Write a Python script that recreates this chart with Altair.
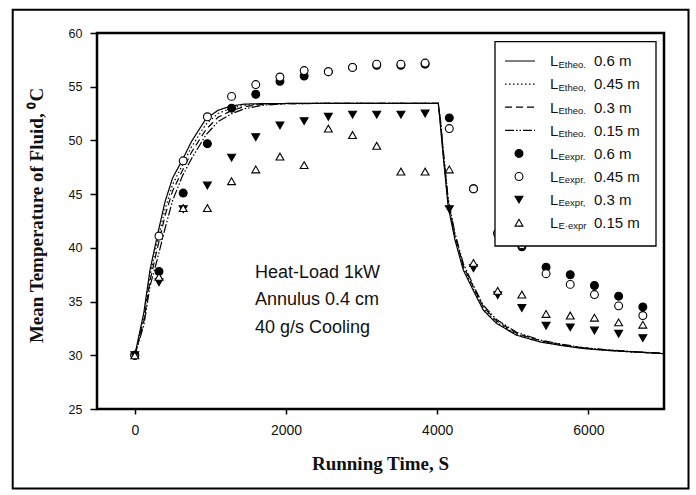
import altair as alt
import pandas as pd

# ---------------- data ----------------
theo_time = [0, 120, 200, 300, 400, 500, 630, 750, 940, 1100, 1270, 1450, 1700, 2000, 2400,
             4015, 4045, 4080, 4145, 4235, 4345, 4475, 4610, 4785, 5050, 5360, 5650, 5930, 6250, 6590, 7000]
theo_06 = [30, 34.0, 37.9, 41.2, 44.3, 46.5, 48.2, 49.9, 52.0, 52.8, 53.2, 53.38, 53.43, 53.44, 53.44,
           53.44, 51.2, 48.5, 43.85, 40.74, 37.94, 36.07, 34.2, 32.96, 31.87, 31.24, 30.9, 30.63, 30.45, 30.31, 30.15]
theo_045 = [30, 33.6, 37.4, 40.6, 43.6, 45.9, 47.7, 49.4, 51.5, 52.5, 53.0, 53.28, 53.4, 53.44, 53.44,
            53.44, 51.4, 48.7, 44.1, 40.95, 38.15, 36.25, 34.35, 33.08, 31.96, 31.3, 30.94, 30.66, 30.47, 30.32, 30.16]
theo_03 = [30, 33.2, 36.9, 40.0, 43.0, 45.3, 47.2, 48.9, 51.0, 52.15, 52.75, 53.15, 53.35, 53.43, 53.44,
           53.44, 51.6, 48.9, 44.35, 41.15, 38.35, 36.4, 34.5, 33.2, 32.05, 31.36, 30.98, 30.69, 30.49, 30.33, 30.17]
theo_015 = [30, 32.8, 36.4, 39.0, 41.8, 44.4, 46.7, 48.3, 50.5, 51.75, 52.45, 52.95, 53.28, 53.42, 53.44,
            53.44, 51.8, 49.1, 44.6, 41.35, 38.55, 36.55, 34.65, 33.32, 32.14, 31.42, 31.02, 30.72, 30.51, 30.34, 30.18]

exp_time = [0, 320, 640, 960, 1280, 1600, 1920, 2240, 2560, 2880, 3200, 3520, 3840,
            4160, 4480, 4800, 5120, 5440, 5760, 6080, 6400, 6720]
exp_06 = [30, 37.8, 45.1, 49.7, 53.0, 54.3, 55.5, 56.0, 56.4, 56.8, 57.0, 57.0, 57.1,
          52.1, 45.5, 41.4, 40.1, 38.2, 37.5, 36.5, 35.5, 34.5]
exp_045 = [30, 41.1, 48.1, 52.2, 54.1, 55.2, 55.9, 56.5, 56.4, 56.8, 57.1, 57.1, 57.2,
           51.1, 45.5, 41.3, 40.3, 37.6, 36.6, 35.65, 34.6, 33.7]
exp_03 = [30, 36.8, 43.6, 45.8, 48.4, 50.3, 51.4, 51.8, 52.2, 52.4, 52.4, 52.4, 52.5,
          43.6, 38.1, 35.6, 34.4, 32.75, 32.6, 32.3, 32.0, 31.6]
exp_015 = [30, 37.3, 43.7, 43.7, 46.2, 47.3, 48.5, 47.7, 51.1, 50.5, 49.5, 47.1, 47.1,
           47.3, 38.6, 36.0, 35.65, 33.85, 33.7, 33.5, 33.06, 32.85]

series_names = ["0.6", "0.45", "0.3", "0.15"]
legend_sub = ["Etheo.", "Etheo,", "Etheo.", "Etheo.", "Eexpr.", "Eexpr.", "Eexpr,", "E·expr"]
legend_num = ["0.6 m", "0.45 m", "0.3 m", "0.15 m", "0.6 m", "0.45 m", "0.3 m", "0.15 m"]
annotation = ["Heat-Load 1kW", "Annulus 0.4 cm", "40 g/s Cooling"]

x_ticks = [0, 2000, 4000, 6000]
y_ticks = [25, 30, 35, 40, 45, 50, 55, 60]

# ---------------- styling ----------------
SANS = "Liberation Sans"
SERIF = "Liberation Serif"
TXT = "#111111"
dash_scale = alt.Scale(domain=series_names,
                       range=[[1, 0], [1.5, 2.5], [7, 4], [9, 2, 1.5, 2, 1.5, 2]])

X = alt.X("t:Q", scale=alt.Scale(domain=[-500, 7000], nice=False, zero=False),
          axis=alt.Axis(values=x_ticks, format="d", title="Running Time, S",
                        titleFont=SERIF, titleFontSize=19, titleFontWeight="bold",
                        titleColor=TXT, titleX=283, titleY=54, titleBaseline="middle",
                        titleAlign="center",
                        labelFont=SANS, labelFontSize=14, labelColor=TXT,
                        tickSize=5, labelPadding=9, tickWidth=1.5, tickColor="black",
                        grid=False, domain=False))
Y = alt.Y("v:Q", scale=alt.Scale(domain=[25, 60], nice=False, zero=False),
          axis=alt.Axis(values=y_ticks, title="Mean Temperature of Fluid, ⁰C",
                        titleFont=SERIF, titleFontSize=19, titleFontWeight="bold",
                        titleColor=TXT, titleX=-61, titleY=182, titleBaseline="middle",
                        titleAlign="center", titleAngle=270,
                        labelFont=SANS, labelFontSize=12.5, labelColor=TXT,
                        tickSize=7, labelPadding=8, tickWidth=1.5, tickColor="black",
                        grid=False, domain=False))

# theoretical curves
theo_df = pd.concat([
    pd.DataFrame({"t": theo_time, "v": vals, "s": name, "o": range(len(theo_time))})
    for name, vals in zip(series_names, [theo_06, theo_045, theo_03, theo_015])
])
lines = alt.Chart(theo_df).mark_line(color="black", strokeWidth=1.2).encode(
    x=X, y=Y, order="o:Q",
    strokeDash=alt.StrokeDash("s:N", scale=dash_scale, legend=None))


def marker_layer(vals, shape, fill):
    df = pd.DataFrame({"t": exp_time, "v": vals})
    return alt.Chart(df).mark_point(shape=shape, filled=True, fill=fill, stroke="black",
                                    strokeWidth=1.1, size=62, opacity=1).encode(x=X, y=Y)


m06 = marker_layer(exp_06, "circle", "black")
m045 = marker_layer(exp_045, "circle", "white")
m03 = marker_layer(exp_03, "triangle-down", "black")
m015 = marker_layer(exp_015, "triangle-up", "white")

# annotation
ann_df = pd.DataFrame({"txt": annotation, "k": range(3)})
ann_df["py"] = 239.5 + ann_df["k"] * 27.8
ann = alt.Chart(ann_df).mark_text(align="left", baseline="middle", font=SANS, fontSize=18,
                                  color=TXT).encode(
    x=alt.value(158), y=alt.Y("py:Q", scale=None, axis=None), text="txt:N")

# legend (drawn in pixel space)
one = pd.DataFrame({"a": [0]})
leg_box = alt.Chart(one).mark_rect(fill="white", stroke="black", strokeWidth=1.3).encode(
    x=alt.value(398), x2=alt.value(559), y=alt.value(8.7), y2=alt.value(213))

row_y = [28 + 23.1 * i for i in range(8)]
leg_line_df = pd.DataFrame({
    "lx": [408, 438] * 4,
    "ly": [row_y[i // 2] for i in range(8)],
    "s": [series_names[i // 2] for i in range(8)],
})
leg_lines = alt.Chart(leg_line_df).mark_line(color="black", strokeWidth=1.2).encode(
    x=alt.X("lx:Q", scale=None, axis=None), y=alt.Y("ly:Q", scale=None, axis=None),
    strokeDash=alt.StrokeDash("s:N", scale=dash_scale, legend=None))


def leg_marker(i, shape, fill):
    df = pd.DataFrame({"lx": [422], "ly": [row_y[i]]})
    return alt.Chart(df).mark_point(shape=shape, filled=True, fill=fill, stroke="black",
                                    strokeWidth=1.1, size=62, opacity=1).encode(
        x=alt.X("lx:Q", scale=None, axis=None), y=alt.Y("ly:Q", scale=None, axis=None))


leg_m = [leg_marker(4, "circle", "black"), leg_marker(5, "circle", "white"),
         leg_marker(6, "triangle-down", "black"), leg_marker(7, "triangle-up", "white")]

leg_txt_df = pd.DataFrame({"sub": legend_sub, "num": legend_num, "ly": row_y})
leg_txt_df["L"] = "L"
leg_txt_df["lyb"] = leg_txt_df["ly"] + 5.3
leg_txt_df["lys"] = leg_txt_df["ly"] + 6.5
leg_L = alt.Chart(leg_txt_df).mark_text(align="left", baseline="alphabetic", font=SANS,
                                        fontSize=15, color=TXT).encode(
    x=alt.value(453), y=alt.Y("lyb:Q", scale=None, axis=None), text="L:N")
leg_S = alt.Chart(leg_txt_df).mark_text(align="left", baseline="alphabetic", font=SANS,
                                        fontSize=9.5, color=TXT).encode(
    x=alt.value(461.5), y=alt.Y("lys:Q", scale=None, axis=None), text="sub:N")
leg_N = alt.Chart(leg_txt_df).mark_text(align="left", baseline="alphabetic", font=SANS,
                                        fontSize=15, color=TXT).encode(
    x=alt.value(497), y=alt.Y("lyb:Q", scale=None, axis=None), text="num:N")

# outer figure frame
frame = alt.Chart(one).mark_rect(fillOpacity=0, stroke="black", strokeWidth=2).encode(
    x=alt.value(-84.3), x2=alt.value(591.5), y=alt.value(-23.3), y2=alt.value(455.5))

chart = alt.layer(
    lines, m06, m045, m03, m015, ann, leg_box, leg_lines, *leg_m, leg_L, leg_S, leg_N, frame
).properties(
    width=567, height=376,
    padding={"left": 97, "top": 33, "right": 32, "bottom": 86},
    autosize=alt.AutoSizeParams(type="none"),
    background="white",
).configure_view(stroke="black", strokeWidth=2.5)

chart.save("out.html", embed_options={"renderer": "svg", "actions": False})
